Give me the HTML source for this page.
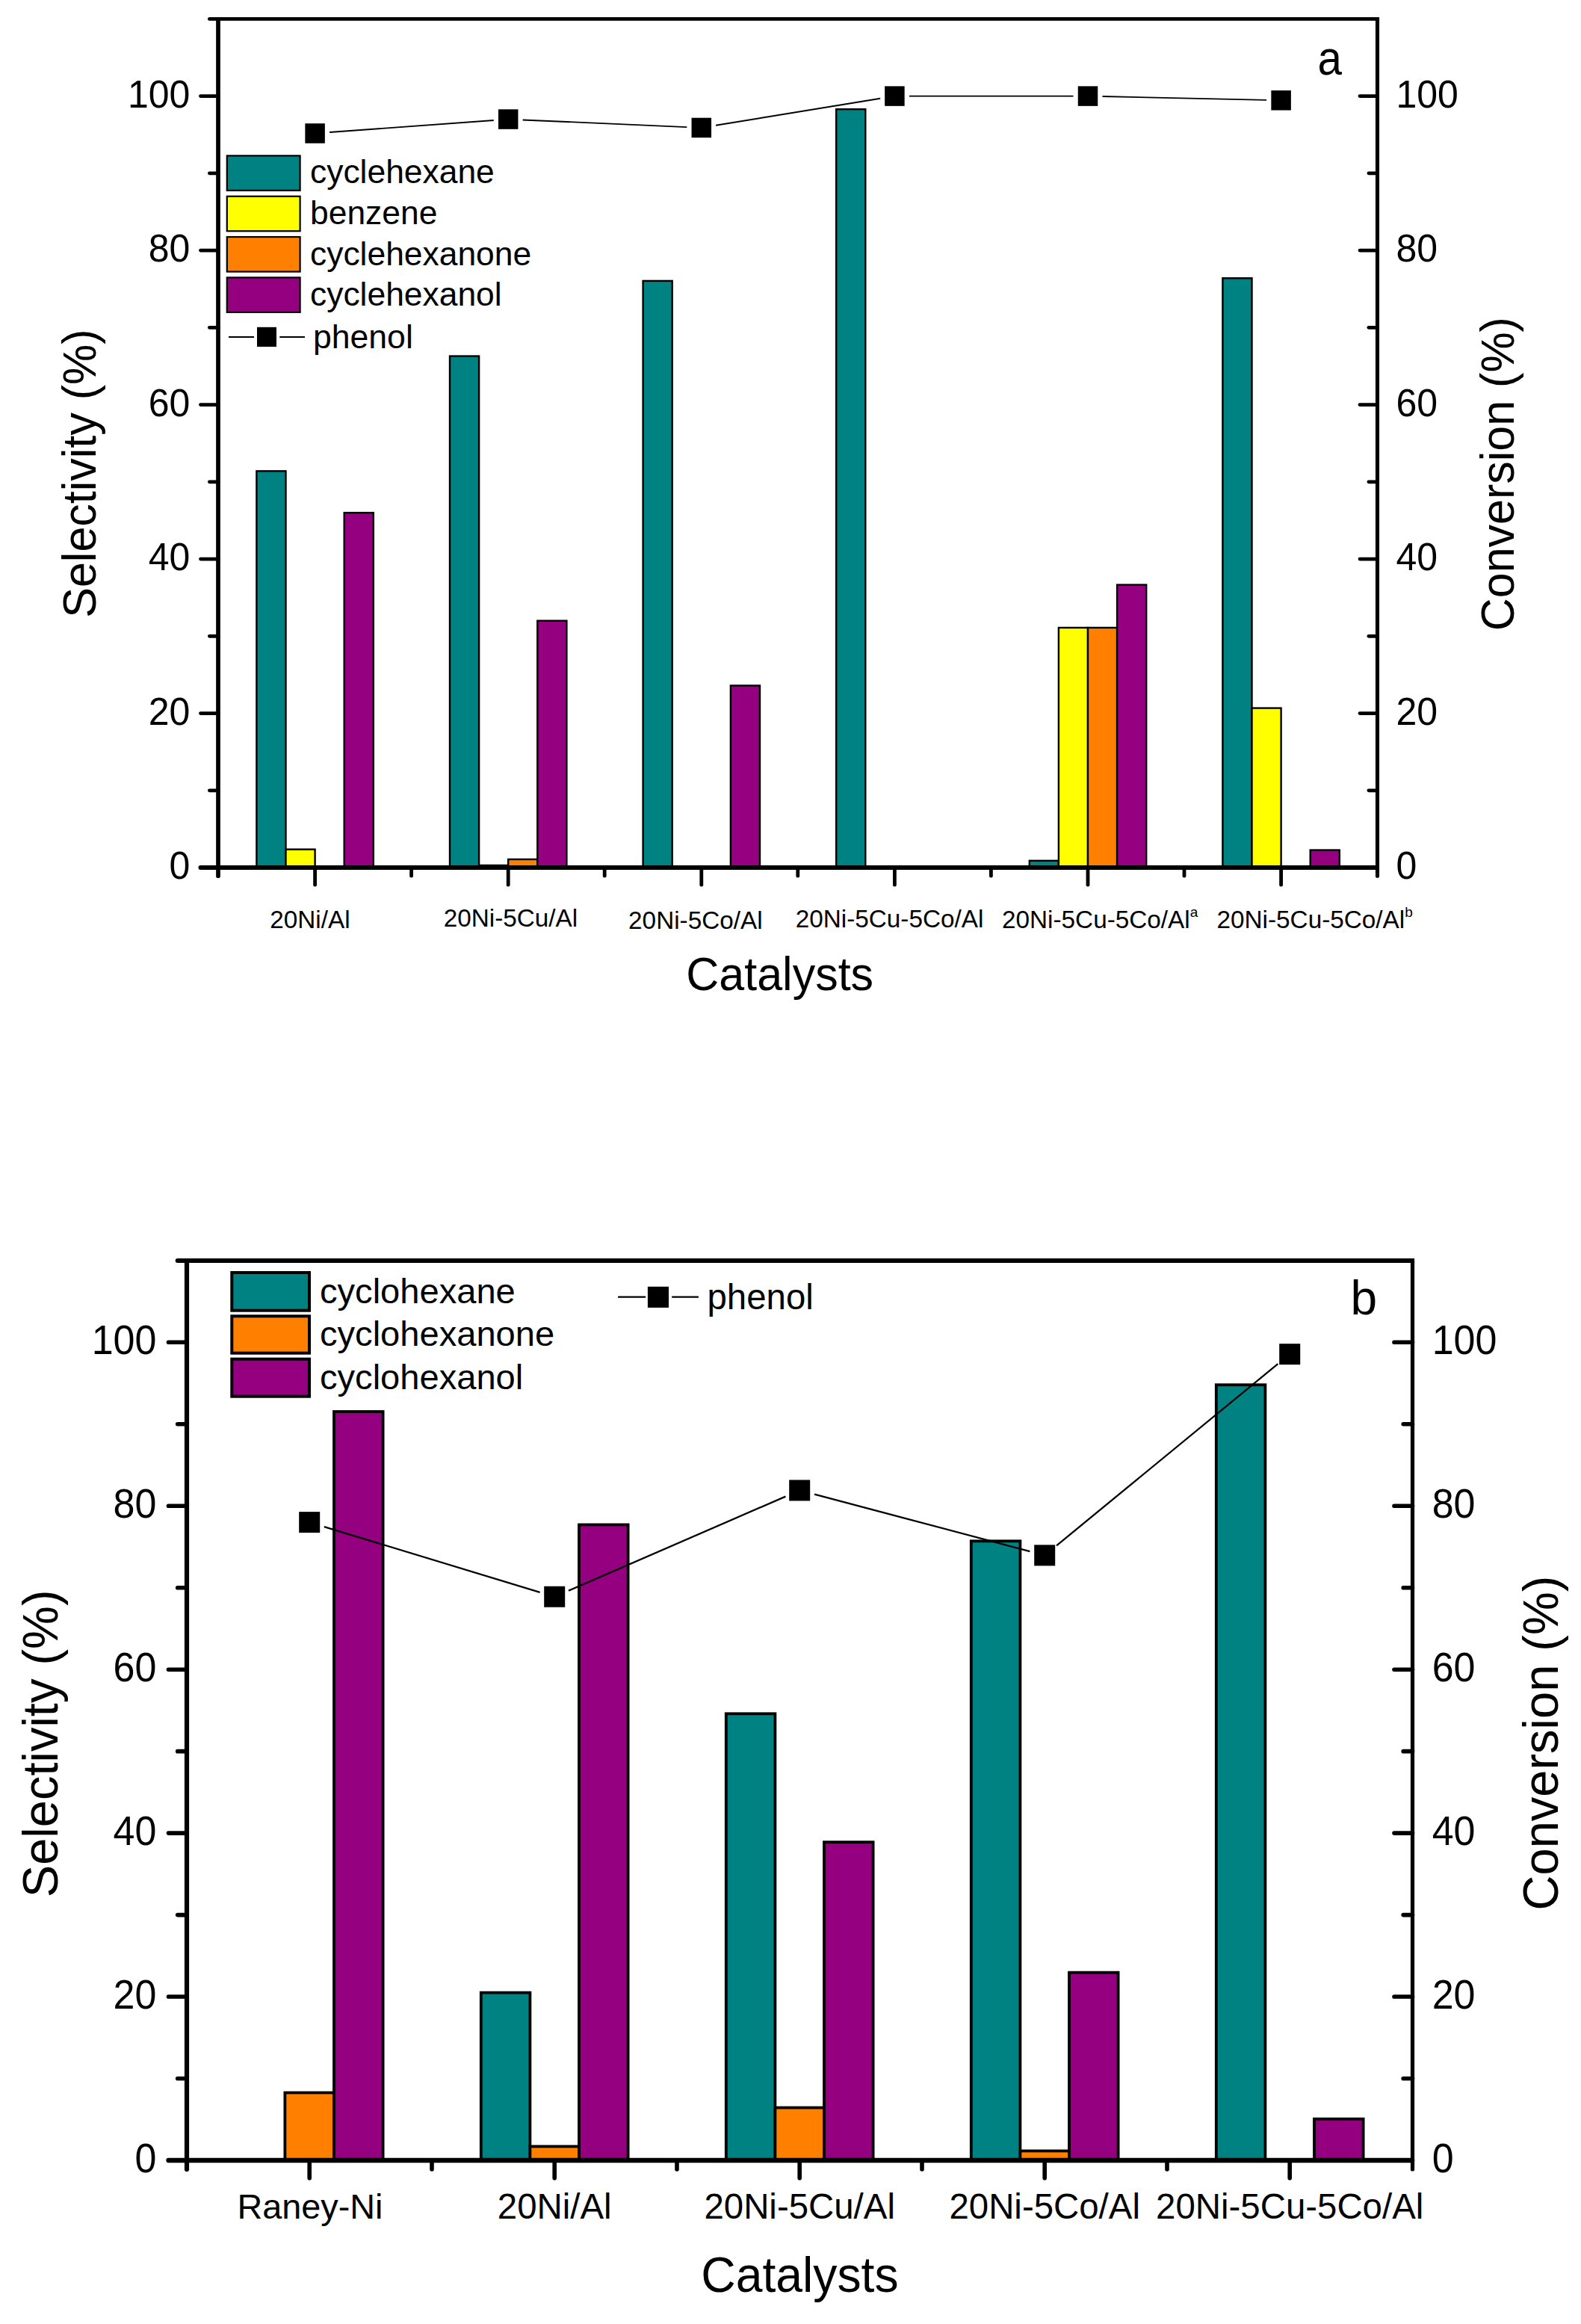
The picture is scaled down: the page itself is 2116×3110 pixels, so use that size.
<!DOCTYPE html>
<html><head><meta charset="utf-8"><title>Catalyst selectivity and conversion</title>
<style>html,body{margin:0;padding:0;background:#fff}svg{display:block}text{font-family:"Liberation Sans", Arial, sans-serif;fill:#000}</style>
</head><body>
<svg width="2116" height="3110" viewBox="0 0 2116 3110">
<rect width="2116" height="3110" fill="#fff"/>
<g id="chart-a">
<rect x="343.40" y="630.39" width="39.10" height="530.70" fill="#008282" stroke="#000" stroke-width="2.4"/>
<rect x="382.50" y="1136.63" width="39.10" height="24.47" fill="#ffff00" stroke="#000" stroke-width="2.4"/>
<rect x="460.70" y="686.15" width="39.10" height="474.95" fill="#94007f" stroke="#000" stroke-width="2.4"/>
<rect x="602.00" y="476.55" width="39.10" height="684.55" fill="#008282" stroke="#000" stroke-width="2.4"/>
<rect x="641.10" y="1158.00" width="39.10" height="3.10" fill="#ffff00" stroke="#000" stroke-width="2.4"/>
<rect x="680.20" y="1149.95" width="39.10" height="11.15" fill="#ff8000" stroke="#000" stroke-width="2.4"/>
<rect x="719.30" y="830.70" width="39.10" height="330.40" fill="#94007f" stroke="#000" stroke-width="2.4"/>
<rect x="860.60" y="375.88" width="39.10" height="785.22" fill="#008282" stroke="#000" stroke-width="2.4"/>
<rect x="977.90" y="917.43" width="39.10" height="243.67" fill="#94007f" stroke="#000" stroke-width="2.4"/>
<rect x="1119.20" y="146.15" width="39.10" height="1014.95" fill="#008282" stroke="#000" stroke-width="2.4"/>
<rect x="1377.80" y="1151.81" width="39.10" height="9.29" fill="#008282" stroke="#000" stroke-width="2.4"/>
<rect x="1416.90" y="839.99" width="39.10" height="321.11" fill="#ffff00" stroke="#000" stroke-width="2.4"/>
<rect x="1456.00" y="839.99" width="39.10" height="321.11" fill="#ff8000" stroke="#000" stroke-width="2.4"/>
<rect x="1495.10" y="782.59" width="39.10" height="378.51" fill="#94007f" stroke="#000" stroke-width="2.4"/>
<rect x="1636.40" y="372.27" width="39.10" height="788.83" fill="#008282" stroke="#000" stroke-width="2.4"/>
<rect x="1675.50" y="947.58" width="39.10" height="213.52" fill="#ffff00" stroke="#000" stroke-width="2.4"/>
<rect x="1753.70" y="1137.56" width="39.10" height="23.54" fill="#94007f" stroke="#000" stroke-width="2.4"/>
<line x1="280.40" y1="25.40" x2="1842.90" y2="25.40" stroke="#000" stroke-width="4.8" stroke-linecap="round"/>
<line x1="268.50" y1="1161.10" x2="1842.90" y2="1161.10" stroke="#000" stroke-width="6.0" stroke-linecap="round"/>
<line x1="292.00" y1="26.40" x2="292.00" y2="1172.20" stroke="#000" stroke-width="5.7" stroke-linecap="round"/>
<line x1="1843.50" y1="26.40" x2="1843.50" y2="1172.20" stroke="#000" stroke-width="5.1" stroke-linecap="round"/>
<rect x="1840.95" y="23.00" width="5.10" height="4.80" fill="#000"/>
<rect x="289.15" y="23.00" width="5.70" height="4.80" fill="#000"/>
<line x1="1820.00" y1="1161.10" x2="1843.50" y2="1161.10" stroke="#000" stroke-width="4.8" stroke-linecap="round"/>
<line x1="280.40" y1="1057.85" x2="292.00" y2="1057.85" stroke="#000" stroke-width="4.8" stroke-linecap="round"/>
<line x1="1831.90" y1="1057.85" x2="1843.50" y2="1057.85" stroke="#000" stroke-width="4.8" stroke-linecap="round"/>
<line x1="268.50" y1="954.60" x2="292.00" y2="954.60" stroke="#000" stroke-width="4.8" stroke-linecap="round"/>
<line x1="1820.00" y1="954.60" x2="1843.50" y2="954.60" stroke="#000" stroke-width="4.8" stroke-linecap="round"/>
<line x1="280.40" y1="851.35" x2="292.00" y2="851.35" stroke="#000" stroke-width="4.8" stroke-linecap="round"/>
<line x1="1831.90" y1="851.35" x2="1843.50" y2="851.35" stroke="#000" stroke-width="4.8" stroke-linecap="round"/>
<line x1="268.50" y1="748.10" x2="292.00" y2="748.10" stroke="#000" stroke-width="4.8" stroke-linecap="round"/>
<line x1="1820.00" y1="748.10" x2="1843.50" y2="748.10" stroke="#000" stroke-width="4.8" stroke-linecap="round"/>
<line x1="280.40" y1="644.85" x2="292.00" y2="644.85" stroke="#000" stroke-width="4.8" stroke-linecap="round"/>
<line x1="1831.90" y1="644.85" x2="1843.50" y2="644.85" stroke="#000" stroke-width="4.8" stroke-linecap="round"/>
<line x1="268.50" y1="541.60" x2="292.00" y2="541.60" stroke="#000" stroke-width="4.8" stroke-linecap="round"/>
<line x1="1820.00" y1="541.60" x2="1843.50" y2="541.60" stroke="#000" stroke-width="4.8" stroke-linecap="round"/>
<line x1="280.40" y1="438.35" x2="292.00" y2="438.35" stroke="#000" stroke-width="4.8" stroke-linecap="round"/>
<line x1="1831.90" y1="438.35" x2="1843.50" y2="438.35" stroke="#000" stroke-width="4.8" stroke-linecap="round"/>
<line x1="268.50" y1="335.10" x2="292.00" y2="335.10" stroke="#000" stroke-width="4.8" stroke-linecap="round"/>
<line x1="1820.00" y1="335.10" x2="1843.50" y2="335.10" stroke="#000" stroke-width="4.8" stroke-linecap="round"/>
<line x1="280.40" y1="231.85" x2="292.00" y2="231.85" stroke="#000" stroke-width="4.8" stroke-linecap="round"/>
<line x1="1831.90" y1="231.85" x2="1843.50" y2="231.85" stroke="#000" stroke-width="4.8" stroke-linecap="round"/>
<line x1="268.50" y1="128.60" x2="292.00" y2="128.60" stroke="#000" stroke-width="4.8" stroke-linecap="round"/>
<line x1="1820.00" y1="128.60" x2="1843.50" y2="128.60" stroke="#000" stroke-width="4.8" stroke-linecap="round"/>
<line x1="421.60" y1="1161.10" x2="421.60" y2="1184.20" stroke="#000" stroke-width="4.8" stroke-linecap="round"/>
<line x1="680.20" y1="1161.10" x2="680.20" y2="1184.20" stroke="#000" stroke-width="4.8" stroke-linecap="round"/>
<line x1="938.80" y1="1161.10" x2="938.80" y2="1184.20" stroke="#000" stroke-width="4.8" stroke-linecap="round"/>
<line x1="1197.40" y1="1161.10" x2="1197.40" y2="1184.20" stroke="#000" stroke-width="4.8" stroke-linecap="round"/>
<line x1="1456.00" y1="1161.10" x2="1456.00" y2="1184.20" stroke="#000" stroke-width="4.8" stroke-linecap="round"/>
<line x1="1714.60" y1="1161.10" x2="1714.60" y2="1184.20" stroke="#000" stroke-width="4.8" stroke-linecap="round"/>
<line x1="550.60" y1="1161.10" x2="550.60" y2="1172.20" stroke="#000" stroke-width="4.8" stroke-linecap="round"/>
<line x1="809.20" y1="1161.10" x2="809.20" y2="1172.20" stroke="#000" stroke-width="4.8" stroke-linecap="round"/>
<line x1="1067.80" y1="1161.10" x2="1067.80" y2="1172.20" stroke="#000" stroke-width="4.8" stroke-linecap="round"/>
<line x1="1326.40" y1="1161.10" x2="1326.40" y2="1172.20" stroke="#000" stroke-width="4.8" stroke-linecap="round"/>
<line x1="1585.00" y1="1161.10" x2="1585.00" y2="1172.20" stroke="#000" stroke-width="4.8" stroke-linecap="round"/>
<text transform="translate(254.40 1176.00) scale(1.0 1.05)" font-size="50" text-anchor="end">0</text>
<text transform="translate(1868.50 1176.00) scale(1.0 1.05)" font-size="50" text-anchor="start">0</text>
<text transform="translate(254.40 969.50) scale(1.0 1.05)" font-size="50" text-anchor="end">20</text>
<text transform="translate(1868.50 969.50) scale(1.0 1.05)" font-size="50" text-anchor="start">20</text>
<text transform="translate(254.40 763.00) scale(1.0 1.05)" font-size="50" text-anchor="end">40</text>
<text transform="translate(1868.50 763.00) scale(1.0 1.05)" font-size="50" text-anchor="start">40</text>
<text transform="translate(254.40 556.50) scale(1.0 1.05)" font-size="50" text-anchor="end">60</text>
<text transform="translate(1868.50 556.50) scale(1.0 1.05)" font-size="50" text-anchor="start">60</text>
<text transform="translate(254.40 350.00) scale(1.0 1.05)" font-size="50" text-anchor="end">80</text>
<text transform="translate(1868.50 350.00) scale(1.0 1.05)" font-size="50" text-anchor="start">80</text>
<text transform="translate(254.40 143.50) scale(1.0 1.05)" font-size="50" text-anchor="end">100</text>
<text transform="translate(1868.50 143.50) scale(1.0 1.05)" font-size="50" text-anchor="start">100</text>
<line x1="441.05" y1="177.05" x2="660.75" y2="161.00" stroke="#000" stroke-width="1.9" stroke-linecap="butt"/>
<line x1="699.68" y1="160.43" x2="919.32" y2="170.08" stroke="#000" stroke-width="1.9" stroke-linecap="butt"/>
<line x1="958.04" y1="167.78" x2="1178.16" y2="131.75" stroke="#000" stroke-width="1.9" stroke-linecap="butt"/>
<line x1="1216.90" y1="128.60" x2="1436.50" y2="128.60" stroke="#000" stroke-width="1.9" stroke-linecap="butt"/>
<line x1="1475.50" y1="129.03" x2="1695.10" y2="133.85" stroke="#000" stroke-width="1.9" stroke-linecap="butt"/>
<rect x="408.35" y="165.22" width="26.5" height="26.5" fill="#000"/>
<rect x="666.95" y="146.32" width="26.5" height="26.5" fill="#000"/>
<rect x="925.55" y="157.68" width="26.5" height="26.5" fill="#000"/>
<rect x="1184.15" y="115.35" width="26.5" height="26.5" fill="#000"/>
<rect x="1442.75" y="115.35" width="26.5" height="26.5" fill="#000"/>
<rect x="1701.35" y="121.03" width="26.5" height="26.5" fill="#000"/>
<rect x="303.80" y="208.40" width="97.80" height="46.50" fill="#008282" stroke="#000" stroke-width="2.2"/>
<text x="415.00" y="245.40" font-size="44.4" text-anchor="start">cyclehexane</text>
<rect x="303.80" y="262.73" width="97.80" height="46.50" fill="#ffff00" stroke="#000" stroke-width="2.2"/>
<text x="415.00" y="300.00" font-size="44.4" text-anchor="start">benzene</text>
<rect x="303.80" y="317.06" width="97.80" height="46.50" fill="#ff8000" stroke="#000" stroke-width="2.2"/>
<text x="415.00" y="354.60" font-size="44.4" text-anchor="start">cyclehexanone</text>
<rect x="303.80" y="371.39" width="97.80" height="46.50" fill="#94007f" stroke="#000" stroke-width="2.2"/>
<text x="415.00" y="409.20" font-size="44.4" text-anchor="start">cyclehexanol</text>
<line x1="306.00" y1="451.00" x2="340.00" y2="451.00" stroke="#000" stroke-width="2.0" stroke-linecap="butt"/>
<line x1="374.30" y1="451.00" x2="408.00" y2="451.00" stroke="#000" stroke-width="2.0" stroke-linecap="butt"/>
<rect x="344" y="437.8" width="26" height="26.2" fill="#000"/>
<text x="418.90" y="465.60" font-size="44.6" text-anchor="start">phenol</text>
<text transform="translate(1763.50 100.40) scale(0.95 1.06)" font-size="61.5" text-anchor="start">a</text>
<text x="361.20" y="1241.50" font-size="33.3" text-anchor="start">20Ni/Al</text>
<text x="593.70" y="1240.00" font-size="33.3" text-anchor="start">20Ni-5Cu/Al</text>
<text x="841.10" y="1243.00" font-size="33.3" text-anchor="start">20Ni-5Co/Al</text>
<text x="1064.70" y="1240.50" font-size="33.3" text-anchor="start">20Ni-5Cu-5Co/Al</text>
<text x="1341.00" y="1241.50" font-size="33.3" text-anchor="start">20Ni-5Cu-5Co/Al<tspan dy="-14.5" font-size="19">a</tspan></text>
<text x="1628.50" y="1241.50" font-size="33.3" text-anchor="start">20Ni-5Cu-5Co/Al<tspan dy="-14.5" font-size="19">b</tspan></text>
<text transform="translate(1043.70 1325.00) scale(1.0 1.04)" font-size="61" text-anchor="middle">Catalysts</text>
<text transform="translate(128.00 633.60) rotate(-90) scale(1.0 1.03)" font-size="61" text-anchor="middle">Selectivity (%)</text>
<text transform="translate(2025.70 634.20) rotate(-90) scale(1.0 1.03)" font-size="61" text-anchor="middle">Conversion (%)</text>
</g>
<g id="chart-b">
<rect x="381.40" y="2800.47" width="65.60" height="90.53" fill="#ff8000" stroke="#000" stroke-width="3.8"/>
<rect x="447.00" y="1889.02" width="65.60" height="1001.98" fill="#94007f" stroke="#000" stroke-width="3.8"/>
<rect x="643.80" y="2666.59" width="65.60" height="224.41" fill="#008282" stroke="#000" stroke-width="3.8"/>
<rect x="709.40" y="2872.39" width="65.60" height="18.61" fill="#ff8000" stroke="#000" stroke-width="3.8"/>
<rect x="775.00" y="2040.42" width="65.60" height="850.58" fill="#94007f" stroke="#000" stroke-width="3.8"/>
<rect x="971.80" y="2293.29" width="65.60" height="597.71" fill="#008282" stroke="#000" stroke-width="3.8"/>
<rect x="1037.40" y="2820.50" width="65.60" height="70.50" fill="#ff8000" stroke="#000" stroke-width="3.8"/>
<rect x="1103.00" y="2465.16" width="65.60" height="425.84" fill="#94007f" stroke="#000" stroke-width="3.8"/>
<rect x="1299.80" y="2062.31" width="65.60" height="828.69" fill="#008282" stroke="#000" stroke-width="3.8"/>
<rect x="1365.40" y="2878.41" width="65.60" height="12.59" fill="#ff8000" stroke="#000" stroke-width="3.8"/>
<rect x="1431.00" y="2639.66" width="65.60" height="251.34" fill="#94007f" stroke="#000" stroke-width="3.8"/>
<rect x="1627.80" y="1853.22" width="65.60" height="1037.78" fill="#008282" stroke="#000" stroke-width="3.8"/>
<rect x="1759.00" y="2835.61" width="65.60" height="55.39" fill="#94007f" stroke="#000" stroke-width="3.8"/>
<line x1="237.70" y1="1687.00" x2="1889.90" y2="1687.00" stroke="#000" stroke-width="6.0" stroke-linecap="round"/>
<line x1="225.50" y1="2891.00" x2="1889.90" y2="2891.00" stroke="#000" stroke-width="6.3" stroke-linecap="round"/>
<line x1="250.00" y1="1688.00" x2="250.00" y2="2903.00" stroke="#000" stroke-width="6.2" stroke-linecap="round"/>
<line x1="1890.50" y1="1688.00" x2="1890.50" y2="2903.00" stroke="#000" stroke-width="5.2" stroke-linecap="round"/>
<rect x="1887.90" y="1684.00" width="5.20" height="6.00" fill="#000"/>
<rect x="246.90" y="1684.00" width="6.20" height="6.00" fill="#000"/>
<line x1="1866.00" y1="2891.00" x2="1890.50" y2="2891.00" stroke="#000" stroke-width="5.6" stroke-linecap="round"/>
<line x1="237.70" y1="2781.53" x2="250.00" y2="2781.53" stroke="#000" stroke-width="5.6" stroke-linecap="round"/>
<line x1="1878.20" y1="2781.53" x2="1890.50" y2="2781.53" stroke="#000" stroke-width="5.6" stroke-linecap="round"/>
<line x1="225.50" y1="2672.06" x2="250.00" y2="2672.06" stroke="#000" stroke-width="5.6" stroke-linecap="round"/>
<line x1="1866.00" y1="2672.06" x2="1890.50" y2="2672.06" stroke="#000" stroke-width="5.6" stroke-linecap="round"/>
<line x1="237.70" y1="2562.59" x2="250.00" y2="2562.59" stroke="#000" stroke-width="5.6" stroke-linecap="round"/>
<line x1="1878.20" y1="2562.59" x2="1890.50" y2="2562.59" stroke="#000" stroke-width="5.6" stroke-linecap="round"/>
<line x1="225.50" y1="2453.12" x2="250.00" y2="2453.12" stroke="#000" stroke-width="5.6" stroke-linecap="round"/>
<line x1="1866.00" y1="2453.12" x2="1890.50" y2="2453.12" stroke="#000" stroke-width="5.6" stroke-linecap="round"/>
<line x1="237.70" y1="2343.65" x2="250.00" y2="2343.65" stroke="#000" stroke-width="5.6" stroke-linecap="round"/>
<line x1="1878.20" y1="2343.65" x2="1890.50" y2="2343.65" stroke="#000" stroke-width="5.6" stroke-linecap="round"/>
<line x1="225.50" y1="2234.18" x2="250.00" y2="2234.18" stroke="#000" stroke-width="5.6" stroke-linecap="round"/>
<line x1="1866.00" y1="2234.18" x2="1890.50" y2="2234.18" stroke="#000" stroke-width="5.6" stroke-linecap="round"/>
<line x1="237.70" y1="2124.71" x2="250.00" y2="2124.71" stroke="#000" stroke-width="5.6" stroke-linecap="round"/>
<line x1="1878.20" y1="2124.71" x2="1890.50" y2="2124.71" stroke="#000" stroke-width="5.6" stroke-linecap="round"/>
<line x1="225.50" y1="2015.24" x2="250.00" y2="2015.24" stroke="#000" stroke-width="5.6" stroke-linecap="round"/>
<line x1="1866.00" y1="2015.24" x2="1890.50" y2="2015.24" stroke="#000" stroke-width="5.6" stroke-linecap="round"/>
<line x1="237.70" y1="1905.77" x2="250.00" y2="1905.77" stroke="#000" stroke-width="5.6" stroke-linecap="round"/>
<line x1="1878.20" y1="1905.77" x2="1890.50" y2="1905.77" stroke="#000" stroke-width="5.6" stroke-linecap="round"/>
<line x1="225.50" y1="1796.30" x2="250.00" y2="1796.30" stroke="#000" stroke-width="5.6" stroke-linecap="round"/>
<line x1="1866.00" y1="1796.30" x2="1890.50" y2="1796.30" stroke="#000" stroke-width="5.6" stroke-linecap="round"/>
<line x1="414.20" y1="2891.00" x2="414.20" y2="2914.80" stroke="#000" stroke-width="5.6" stroke-linecap="round"/>
<line x1="742.20" y1="2891.00" x2="742.20" y2="2914.80" stroke="#000" stroke-width="5.6" stroke-linecap="round"/>
<line x1="1070.20" y1="2891.00" x2="1070.20" y2="2914.80" stroke="#000" stroke-width="5.6" stroke-linecap="round"/>
<line x1="1398.20" y1="2891.00" x2="1398.20" y2="2914.80" stroke="#000" stroke-width="5.6" stroke-linecap="round"/>
<line x1="1726.20" y1="2891.00" x2="1726.20" y2="2914.80" stroke="#000" stroke-width="5.6" stroke-linecap="round"/>
<line x1="578.00" y1="2891.00" x2="578.00" y2="2903.00" stroke="#000" stroke-width="5.6" stroke-linecap="round"/>
<line x1="906.00" y1="2891.00" x2="906.00" y2="2903.00" stroke="#000" stroke-width="5.6" stroke-linecap="round"/>
<line x1="1234.00" y1="2891.00" x2="1234.00" y2="2903.00" stroke="#000" stroke-width="5.6" stroke-linecap="round"/>
<line x1="1562.00" y1="2891.00" x2="1562.00" y2="2903.00" stroke="#000" stroke-width="5.6" stroke-linecap="round"/>
<text transform="translate(209.40 2906.90) scale(1.0 1.05)" font-size="52" text-anchor="end">0</text>
<text transform="translate(1916.70 2906.90) scale(1.0 1.05)" font-size="52" text-anchor="start">0</text>
<text transform="translate(209.40 2687.96) scale(1.0 1.05)" font-size="52" text-anchor="end">20</text>
<text transform="translate(1916.70 2687.96) scale(1.0 1.05)" font-size="52" text-anchor="start">20</text>
<text transform="translate(209.40 2469.02) scale(1.0 1.05)" font-size="52" text-anchor="end">40</text>
<text transform="translate(1916.70 2469.02) scale(1.0 1.05)" font-size="52" text-anchor="start">40</text>
<text transform="translate(209.40 2250.08) scale(1.0 1.05)" font-size="52" text-anchor="end">60</text>
<text transform="translate(1916.70 2250.08) scale(1.0 1.05)" font-size="52" text-anchor="start">60</text>
<text transform="translate(209.40 2031.14) scale(1.0 1.05)" font-size="52" text-anchor="end">80</text>
<text transform="translate(1916.70 2031.14) scale(1.0 1.05)" font-size="52" text-anchor="start">80</text>
<text transform="translate(209.40 1812.20) scale(1.0 1.05)" font-size="52" text-anchor="end">100</text>
<text transform="translate(1916.70 1812.20) scale(1.0 1.05)" font-size="52" text-anchor="start">100</text>
<line x1="433.82" y1="2043.09" x2="722.58" y2="2130.79" stroke="#000" stroke-width="2.3" stroke-linecap="butt"/>
<line x1="761.01" y1="2128.59" x2="1051.39" y2="2002.60" stroke="#000" stroke-width="2.3" stroke-linecap="butt"/>
<line x1="1090.02" y1="1999.69" x2="1378.38" y2="2076.11" stroke="#000" stroke-width="2.3" stroke-linecap="butt"/>
<line x1="1414.05" y1="2068.35" x2="1710.35" y2="1825.18" stroke="#000" stroke-width="2.3" stroke-linecap="butt"/>
<rect x="400.20" y="2023.13" width="28" height="28" fill="#000"/>
<rect x="728.20" y="2122.75" width="28" height="28" fill="#000"/>
<rect x="1056.20" y="1980.44" width="28" height="28" fill="#000"/>
<rect x="1384.20" y="2067.36" width="28" height="28" fill="#000"/>
<rect x="1712.20" y="1798.17" width="28" height="28" fill="#000"/>
<rect x="310.30" y="1703.00" width="103.70" height="50.70" fill="#008282" stroke="#000" stroke-width="4"/>
<text x="428.00" y="1743.50" font-size="47.1" text-anchor="start">cyclohexane</text>
<rect x="310.30" y="1761.30" width="103.70" height="49.40" fill="#ff8000" stroke="#000" stroke-width="4"/>
<text x="428.00" y="1801.40" font-size="47.1" text-anchor="start">cyclohexanone</text>
<rect x="310.30" y="1818.70" width="103.70" height="50.00" fill="#94007f" stroke="#000" stroke-width="4"/>
<text x="428.00" y="1859.30" font-size="47.1" text-anchor="start">cyclohexanol</text>
<line x1="827.10" y1="1735.60" x2="864.10" y2="1735.60" stroke="#000" stroke-width="2.4" stroke-linecap="butt"/>
<line x1="899.20" y1="1735.60" x2="934.90" y2="1735.60" stroke="#000" stroke-width="2.4" stroke-linecap="butt"/>
<rect x="866.9" y="1721.8" width="28.1" height="28.1" fill="#000"/>
<text x="946.50" y="1751.70" font-size="47.4" text-anchor="start">phenol</text>
<text x="1807.50" y="1758.50" font-size="64" text-anchor="start">b</text>
<text x="415.00" y="2968.60" font-size="46.8" text-anchor="middle">Raney-Ni</text>
<text x="742.20" y="2968.60" font-size="47.4" text-anchor="middle">20Ni/Al</text>
<text x="1070.20" y="2968.60" font-size="47.4" text-anchor="middle">20Ni-5Cu/Al</text>
<text x="1398.20" y="2968.60" font-size="47.4" text-anchor="middle">20Ni-5Co/Al</text>
<text x="1726.20" y="2968.60" font-size="47.4" text-anchor="middle">20Ni-5Cu-5Co/Al</text>
<text transform="translate(1070.40 3067.40) scale(1.0 1.03)" font-size="64.3" text-anchor="middle">Catalysts</text>
<text transform="translate(77.30 2333.30) rotate(-90) scale(1.0 1.03)" font-size="65" text-anchor="middle">Selectivity (%)</text>
<text transform="translate(2084.70 2332.50) rotate(-90) scale(1.0 1.03)" font-size="65" text-anchor="middle">Conversion (%)</text>
</g>
</svg></body></html>
